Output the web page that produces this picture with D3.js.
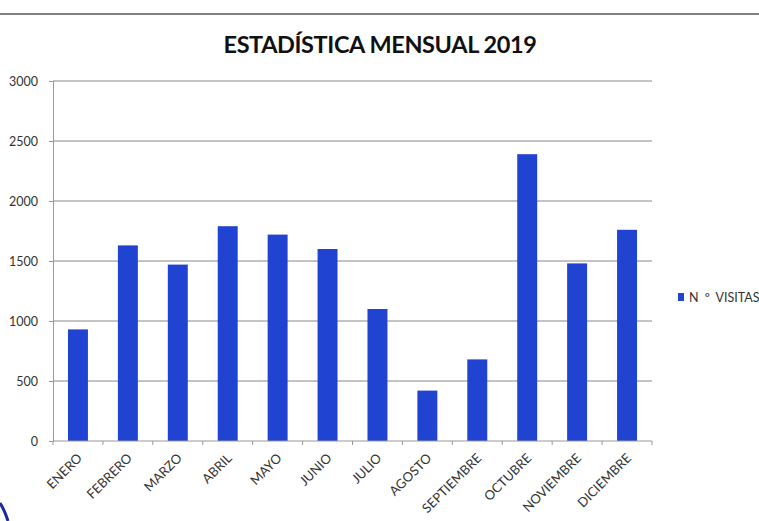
<!DOCTYPE html>
<html>

<head>
    <meta charset="utf-8">
    <style>
        body {
            margin: 0;
            background: #fff;
            font-family: Lato, "Open Sans", sans-serif;
        }

        svg {
            display: block;
        }
    </style>
</head>

<body>
    <svg width="759" height="521"></svg>
</body>

<script src="https://d3js.org/d3.v7.min.js"></script>

<script>
    // data
    let months = ["ENERO", "FEBRERO", "MARZO", "ABRIL", "MAYO", "JUNIO", "JULIO",
        "AGOSTO", "SEPTIEMBRE", "OCTUBRE", "NOVIEMBRE", "DICIEMBRE"]
    let visitas = [930, 1630, 1470, 1790, 1720, 1600, 1100, 420, 680, 2390, 1480, 1760]
    let yTicks = [0, 500, 1000, 1500, 2000, 2500, 3000]
    let title = "ESTADÍSTICA MENSUAL 2019"
    let seriesName = "N º VISITAS"

    let svg = d3.select("svg")

    let plotLeft = 53, plotRight = 652, plotTop = 81, plotBottom = 441

    let x = d3.scaleBand()
        .domain(months)
        .range([plotLeft, plotRight])
        .paddingInner(0.6)
        .paddingOuter(0.3)

    let y = d3.scaleLinear()
        .domain([0, 3000])
        .range([plotBottom, plotTop])

    // scan border line across the top
    svg.append("line")
        .attr("x1", 0).attr("x2", 759)
        .attr("y1", 14).attr("y2", 14)
        .attr("stroke", "#555")
        .attr("stroke-width", 1.5)

    // title
    svg.append("text")
        .attr("x", 380)
        .attr("y", 53)
        .attr("text-anchor", "middle")
        .attr("font-weight", "bold")
        .attr("font-size", 23.5)
        .attr("fill", "#111")
        .attr("letter-spacing", -0.4)
        .text(title)

    // gridlines
    svg.append("g")
        .selectAll("line")
        .data(yTicks.filter(d => d > 0))
        .join("line")
        .attr("x1", plotLeft)
        .attr("x2", plotRight)
        .attr("y1", d => y(d))
        .attr("y2", d => y(d))
        .attr("stroke", "#888")
        .attr("stroke-width", 1)

    // y axis
    let yAxis = svg.append("g")
        .attr("transform", `translate(${plotLeft},0)`)
        .call(d3.axisLeft(y).tickValues(yTicks).tickFormat(d3.format("d")).tickSize(4).tickPadding(11))
    yAxis.select(".domain").attr("stroke", "#999")
    yAxis.selectAll(".tick line").attr("stroke", "#999")
    yAxis.selectAll("text")
        .attr("font-family", "Lato, sans-serif")
        .attr("font-size", 12.5)
        .attr("fill", "#333")

    // bars
    svg.append("g")
        .selectAll("rect")
        .data(visitas)
        .join("rect")
        .attr("x", (d, i) => x(months[i]))
        .attr("y", d => y(d))
        .attr("width", x.bandwidth())
        .attr("height", d => y(0) - y(d))
        .attr("fill", "#2143d2")

    // x axis
    let step = x.step()
    let xAxis = svg.append("g")
        .attr("transform", `translate(0,${plotBottom})`)
    xAxis.append("line")
        .attr("x1", plotLeft).attr("x2", plotRight)
        .attr("stroke", "#999")
    xAxis.selectAll(".tk")
        .data(d3.range(months.length + 1))
        .join("line")
        .attr("class", "tk")
        .attr("x1", i => plotLeft + i * step)
        .attr("x2", i => plotLeft + i * step)
        .attr("y1", 0).attr("y2", 4)
        .attr("stroke", "#999")
    xAxis.selectAll("text")
        .data(months)
        .join("text")
        .attr("transform", d => `translate(${x(d) + x.bandwidth() / 2 + 5},${18}) rotate(-45)`)
        .attr("text-anchor", "end")
        .attr("font-size", 13)
        .attr("fill", "#333")
        .text(d => d)

    // legend
    let legend = svg.append("g")
        .attr("transform", "translate(678,297)")
    legend.append("rect")
        .attr("x", 0).attr("y", -4)
        .attr("width", 6).attr("height", 8)
        .attr("fill", "#2143d2")
    legend.append("text")
        .attr("x", 11)
        .attr("y", 4.5)
        .attr("font-size", 12.5)
        .attr("word-spacing", 3)
        .attr("fill", "#333")
        .text(seriesName)

    // blue edge visible at the bottom-left of the scan
    svg.append("path")
        .attr("d", "M0,503 Q5,511 8,521")
        .attr("fill", "none")
        .attr("stroke", "#1a2a9a")
        .attr("stroke-width", 3)
</script>

</html>
